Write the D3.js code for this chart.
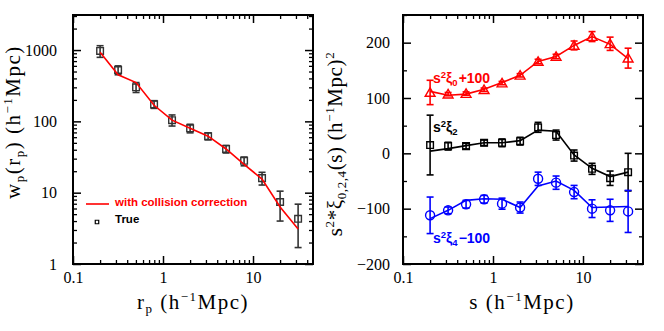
<!DOCTYPE html>
<html>
<head>
<meta charset="utf-8">
<script src="https://cdn.jsdelivr.net/npm/d3@7"></script>
<style>
  body { margin: 0; background: #fff; }
</style>
</head>
<body>
<div class="chart"></div>
<script>
// separations (h^-1 Mpc), log bins of 0.2 dex
const sepBins = [0.2, 0.317, 0.502, 0.796, 1.26, 2.0, 3.17, 5.02, 7.96, 12.6, 20.0, 31.7];

// left panel: projected correlation function
const wpTrue = [970, 525, 300, 173, 104, 80, 62, 41, 28, 16, 7.4, 4.3];
const wpTrueHi = [1150, 600, 350, 195, 123, 91, 69, 46, 31.6, 19.3, 10.5, 6.9];
const wpTrueLo = [790, 450, 254, 152, 86, 69, 55, 36, 23.8, 12.8, 4.0, 1.7];
const wpCorrected = [930, 450, 350, 168, 104, 80, 62, 41, 25, 15.5, 6.3, 3.1];

// right panel: multipoles (offset as labelled)
const xi0 = [110, 107, 108, 115, 127, 141, 166, 175, 195, 211, 198, 172];
const xi0Err = [22, 3, 3, 3, 3, 3, 4, 4, 8, 9, 12, 18];
const xi0Corrected = [112, 105, 107, 116, 128, 141, 166, 175, 195, 211, 197, 171];
const xi2 = [15, 13, 13, 19, 19, 22, 47, 33, -4, -28, -45, -34];
const xi2Err = [54, 7, 5, 5, 7, 7, 9, 9, 10, 10, 13, 34];
const xi2Corrected = [4, 8.5, 14, 19, 19, 23, 42, 40, -3, -27, -42, -34];
const xi4 = [-112, -103, -92, -83, -91, -98, -46, -53, -70, -100, -103, -105];
const xi4Err = [33, 6, 7, 7, 10, 10, 12, 12, 12, 16, 20, 38];
const xi4Corrected = [-118, -103, -85, -82, -83, -98, -59, -50, -67, -98, -97, -96];

// tick labels
const xTickLabels = [0.1, 1, 10];
const wpTickLabels = [1, 10, 100, 1000];
const xiTickLabels = [-200, -100, 0, 100, 200];

const width = 664, height = 331;
const plotTop = 15, plotBottom = 264;
const serif = '"Liberation Serif", serif';
const sans = '"Liberation Sans", sans-serif';

const svg = d3.select('.chart').append('svg')
  .attr('width', width).attr('height', height);

const xLeft = d3.scaleLog().domain([0.1, 46.4]).range([73, 313]);
const xRight = d3.scaleLog().domain([0.1, 46.4]).range([403, 643]);
const yWp = d3.scaleLog().domain([1, 3100]).range([plotBottom, plotTop]);
const yXi = d3.scaleLinear().domain([-200, 250]).range([plotBottom, plotTop]);

// frame + inward ticks on all four sides
function drawFrame(x, y, yMajor, yMinor, yFmt, labelPad) {
  const x0 = x.range()[0], x1 = x.range()[1];
  const xMinor = x.ticks().filter(v => !xTickLabels.includes(v));

  const axes = [
    [d3.axisBottom(x), `translate(0,${plotBottom})`, xTickLabels, xMinor, true, true],
    [d3.axisTop(x), `translate(0,${plotTop})`, xTickLabels, xMinor, false, true],
    [d3.axisLeft(y), `translate(${x0},0)`, yMajor, yMinor, true, false],
    [d3.axisRight(y), `translate(${x1},0)`, yMajor, yMinor, false, false]
  ];
  axes.forEach(([axis, tr, major, minor, labels, isX]) => {
    svg.append('g').attr('transform', tr)
      .call(axis.tickValues(minor).tickSize(-4).tickFormat(''))
      .call(g => g.select('.domain').remove())
      .selectAll('line').attr('stroke', '#000').attr('stroke-width', 1.3);
    const g = svg.append('g').attr('transform', tr)
      .call(axis.tickValues(major).tickSize(-8)
        .tickPadding(isX ? 8 : labelPad)
        .tickFormat(labels ? (isX ? d => String(d) : yFmt) : ''));
    g.select('.domain').remove();
    g.selectAll('line').attr('stroke', '#000').attr('stroke-width', 1.5);
    g.selectAll('text').style('font-family', serif)
      .attr('font-size', 16).attr('fill', '#000');
  });

  svg.append('rect')
    .attr('x', x0).attr('y', plotTop)
    .attr('width', x1 - x0).attr('height', plotBottom - plotTop)
    .attr('fill', 'none').attr('stroke', '#000').attr('stroke-width', 2);
}

const wpMinor = yWp.ticks().filter(v => !wpTickLabels.includes(v));
drawFrame(xLeft, yWp, wpTickLabels, wpMinor, d => String(d), 16);

const xiMinor = d3.range(-150, 260, 100);
drawFrame(xRight, yXi, xiTickLabels, xiMinor, d => (d < 0 ? '\u2212' + (-d) : String(d)), 13);

// ---- helpers for marks ----
function errorBars(x, y, lo, hi, color, cap) {
  const g = svg.append('g').attr('stroke', color).attr('stroke-width', 1.6).attr('fill', 'none');
  sepBins.forEach((s, i) => {
    const px = x(s);
    g.append('line').attr('x1', px).attr('x2', px).attr('y1', y(lo[i])).attr('y2', y(hi[i]));
    g.append('line').attr('x1', px - cap).attr('x2', px + cap).attr('y1', y(lo[i])).attr('y2', y(lo[i]));
    g.append('line').attr('x1', px - cap).attr('x2', px + cap).attr('y1', y(hi[i])).attr('y2', y(hi[i]));
  });
}

function lineOf(x, y, vals, color) {
  svg.append('path')
    .datum(vals)
    .attr('d', d3.line().x((d, i) => x(sepBins[i])).y(d => y(d)))
    .attr('fill', 'none').attr('stroke', color).attr('stroke-width', 1.6);
}

function markers(x, y, vals, color, shape) {
  const sym = { square: d3.symbolSquare, triangle: d3.symbolTriangle, circle: d3.symbolCircle }[shape];
  const size = { square: 44, triangle: 42, circle: 64 }[shape];
  svg.append('g').selectAll('path')
    .data(vals).enter().append('path')
    .attr('transform', (d, i) => `translate(${x(sepBins[i])},${y(d) + (shape === 'triangle' ? 1 : 0)})`)
    .attr('d', d3.symbol().type(sym).size(size))
    .attr('fill', 'none').attr('stroke', color).attr('stroke-width', 1.4);
}

// ---- left panel ----
errorBars(xLeft, yWp, wpTrueLo, wpTrueHi, '#333', 3.5);
markers(xLeft, yWp, wpTrue, '#333', 'square');
lineOf(xLeft, yWp, wpCorrected, '#ff0000');

// legend
svg.append('line').attr('x1', 86).attr('x2', 109).attr('y1', 204).attr('y2', 204)
  .attr('stroke', '#ff0000').attr('stroke-width', 1.6);
svg.append('text').attr('x', 115).attr('y', 206)
  .style('font-family', sans).attr('font-weight', 'bold')
  .attr('font-size', 11.5).attr('fill', '#ff0000')
  .text('with collision correction');
svg.append('path').attr('transform', 'translate(97,222)')
  .attr('d', d3.symbol().type(d3.symbolSquare).size(12))
  .attr('fill', 'none').attr('stroke', '#000').attr('stroke-width', 1.2);
svg.append('text').attr('x', 115).attr('y', 223)
  .style('font-family', sans).attr('font-weight', 'bold')
  .attr('font-size', 11.5).attr('fill', '#000').text('True');

// ---- right panel ----
const lo = (v, e) => v.map((d, i) => d - e[i]);
const hi = (v, e) => v.map((d, i) => d + e[i]);

errorBars(xRight, yXi, lo(xi0, xi0Err), hi(xi0, xi0Err), '#ff0000', 3.5);
markers(xRight, yXi, xi0, '#ff0000', 'triangle');
lineOf(xRight, yXi, xi0Corrected, '#ff0000');

errorBars(xRight, yXi, lo(xi2, xi2Err), hi(xi2, xi2Err), '#000', 3.5);
markers(xRight, yXi, xi2, '#000', 'square');
lineOf(xRight, yXi, xi2Corrected, '#000');

errorBars(xRight, yXi, lo(xi4, xi4Err), hi(xi4, xi4Err), '#0000ff', 3.5);
markers(xRight, yXi, xi4, '#0000ff', 'circle');
lineOf(xRight, yXi, xi4Corrected, '#0000ff');

// in-panel labels
function seriesLabel(yPos, color, sub, suffix) {
  const t = svg.append('text').attr('x', 433).attr('y', yPos)
    .style('font-family', sans).attr('font-weight', 'bold')
    .attr('font-size', 14).attr('fill', color);
  t.append('tspan').text('s');
  t.append('tspan').attr('font-size', 9.5).attr('dy', -5).text('2');
  t.append('tspan').attr('dy', 5).text('\u03be');
  t.append('tspan').attr('font-size', 9.5).attr('dy', 3).text(sub);
  if (suffix) t.append('tspan').attr('dy', -3).attr('dx', 1).text(suffix);
}
seriesLabel(83, '#ff0000', '0', '+100');
seriesLabel(132, '#000', '2', '');
seriesLabel(243, '#0000ff', '4', '\u2212100');

// ---- axis titles ----
function xTitle(cx, main, sub) {
  const t = svg.append('text').attr('x', cx).attr('y', 309)
    .style('font-family', serif)
    .attr('text-anchor', 'middle').attr('font-size', 21)
    .attr('letter-spacing', 1.5).attr('fill', '#000');
  t.append('tspan').text(main);
  if (sub) t.append('tspan').attr('font-size', 13).attr('dy', 4).text(sub);
  t.append('tspan').attr('dy', sub ? -4 : 0).text(' (h');
  t.append('tspan').attr('font-size', 13).attr('dy', -8).text('\u22121');
  t.append('tspan').attr('dy', 8).text('Mpc)');
}
xTitle(193, 'r', 'p');
xTitle(522, 's', null);

// left y title
const ly = svg.append('text')
  .attr('transform', 'translate(20,122) rotate(-90)')
  .style('font-family', serif)
  .attr('text-anchor', 'middle').attr('font-size', 21)
  .attr('letter-spacing', 1.5).attr('fill', '#000');
ly.append('tspan').text('w');
ly.append('tspan').attr('font-size', 13).attr('dy', 4).text('p');
ly.append('tspan').attr('dy', -4).text('(r');
ly.append('tspan').attr('font-size', 13).attr('dy', 4).text('p');
ly.append('tspan').attr('dy', -4).text(')  (h');
ly.append('tspan').attr('font-size', 13).attr('dy', -8).text('\u22121');
ly.append('tspan').attr('dy', 8).text('Mpc)');

// right y title
const ry = svg.append('text')
  .attr('transform', 'translate(342,144) rotate(-90)')
  .style('font-family', serif)
  .attr('text-anchor', 'middle').attr('font-size', 21)
  .attr('letter-spacing', 0.6).attr('fill', '#000');
ry.append('tspan').text('s');
ry.append('tspan').attr('font-size', 13).attr('dy', -8).text('2');
ry.append('tspan').attr('dy', 8).text('*\u03be');
ry.append('tspan').attr('font-size', 13).attr('dy', 4).text('0,2,4');
ry.append('tspan').attr('dy', -4).text('(s)  (h');
ry.append('tspan').attr('font-size', 13).attr('dy', -8).text('\u22121');
ry.append('tspan').attr('dy', 8).text('Mpc)');
ry.append('tspan').attr('font-size', 13).attr('dy', -8).text('2');
</script>
</body>
</html>
